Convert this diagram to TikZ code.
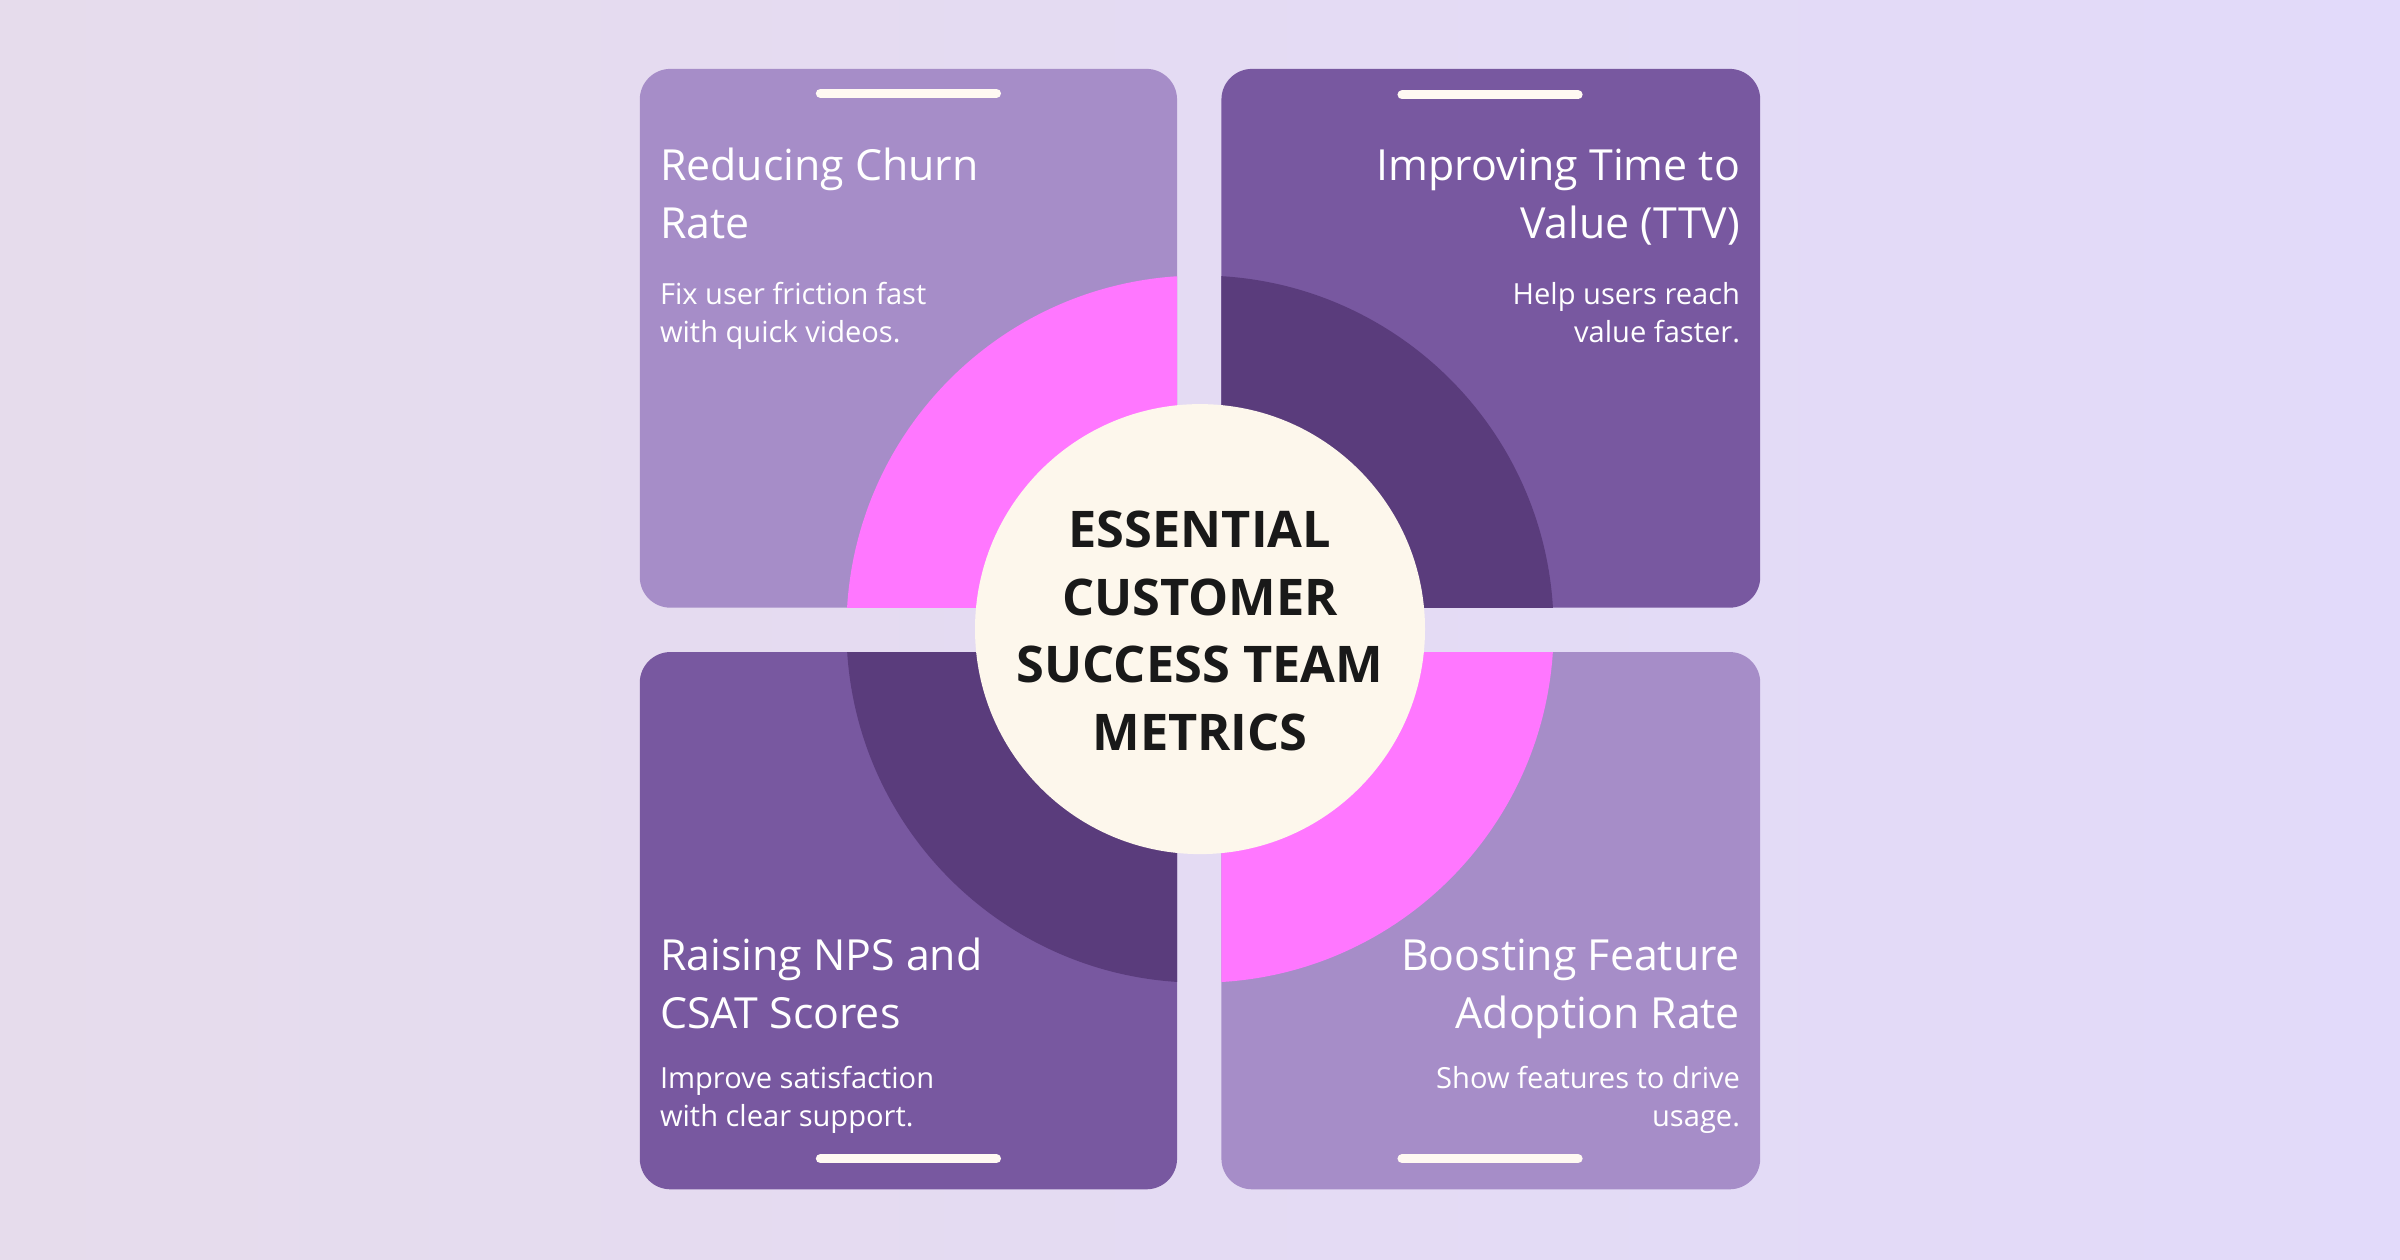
\documentclass[tikz,border=0pt]{standalone}
\usepackage{fontspec}
\setmainfont{Open Sans}
\begin{document}
\begin{tikzpicture}[x=1pt,y=-1pt,
 ttl/.style={font=\fontsize{28}{38}\selectfont, text=white, inner sep=0pt},
 bdy/.style={font=\fontsize{19}{25}\selectfont, text=white, inner sep=0pt},
 ctr/.style={font=\fontsize{33}{44}\selectfont\bfseries, text=black!90, inner sep=0pt},
 bar/.style={white!95!orange, line width=6pt, line cap=round}]
\definecolor{lp}{HTML}{A68DC8}\definecolor{dp}{HTML}{7858A0}
\definecolor{ddp}{HTML}{5A3C7C}\definecolor{pk}{HTML}{FF77FF}
\definecolor{cr}{HTML}{FDF7EC}
\definecolor{bgl}{HTML}{E6DCEC}\definecolor{bgr}{HTML}{E2DAFA}
\shade[left color=bgl,right color=bgr] (0,0) rectangle (1568,823);
\useasboundingbox (0,0) rectangle (1568,823);
\coordinate (c) at (784,411);
% cards
\fill[lp,rounded corners=20] (418,45) rectangle (769,397);
\fill[dp,rounded corners=20] (798,45) rectangle (1150,397);
\fill[dp,rounded corners=20] (418,426) rectangle (769,777);
\fill[lp,rounded corners=20] (798,426) rectangle (1150,777);
% quarter discs
\begin{scope}\clip (418,45) rectangle (769,397); \fill[pk] (c) circle (231);\end{scope}
\begin{scope}\clip (798,45) rectangle (1150,397); \fill[ddp] (c) circle (231);\end{scope}
\begin{scope}\clip (418,426) rectangle (769,777); \fill[ddp] (c) circle (231);\end{scope}
\begin{scope}\clip (798,426) rectangle (1150,777); \fill[pk] (c) circle (231);\end{scope}
% bars
\draw[bar] (536,61) -- (651,61);
\draw[bar] (916,62) -- (1031,62);
\draw[bar] (536,757) -- (651,757);
\draw[bar] (916,757) -- (1031,757);
% circle
\node[circle, fill=cr, minimum size=294pt, inner sep=0pt] (hub) at (c) {};
\node[ctr, anchor=base] (h1) at (784,358) {ESSENTIAL};
\node[ctr, anchor=base] (h2) at (784,402) {CUSTOMER};
\node[ctr, anchor=base] (h3) at (784,446) {SUCCESS TEAM};
\node[ctr, anchor=base] (h4) at (784,490) {METRICS};
% TL
\node[ttl, anchor=base west] (a1) at (431,118) {Reducing Churn};
\node[ttl, anchor=base west] (a2) at (431,156) {Rate};
\node[bdy, anchor=base west] (a3) at (431,199) {Fix user friction fast};
\node[bdy, anchor=base west] (a4) at (431,224) {with quick videos.};
% TR
\node[ttl, anchor=base east] (b1) at (1137,118) {Improving Time to};
\node[ttl, anchor=base east] (b2) at (1137,156) {Value (TTV)};
\node[bdy, anchor=base east] (b3) at (1137,199) {Help users reach};
\node[bdy, anchor=base east] (b4) at (1137,224) {value faster.};
% BL
\node[ttl, anchor=base west] (d1) at (431,634) {Raising NPS and};
\node[ttl, anchor=base west] (d2) at (431,672) {CSAT Scores};
\node[bdy, anchor=base west] (d3) at (431,711) {Improve satisfaction};
\node[bdy, anchor=base west] (d4) at (431,736) {with clear support.};
% BR
\node[ttl, anchor=base east] (e1) at (1137,634) {Boosting Feature};
\node[ttl, anchor=base east] (e2) at (1137,672) {Adoption Rate};
\node[bdy, anchor=base east] (e3) at (1137,711) {Show features to drive};
\node[bdy, anchor=base east] (e4) at (1137,736) {usage.};
\end{tikzpicture}
\end{document}
